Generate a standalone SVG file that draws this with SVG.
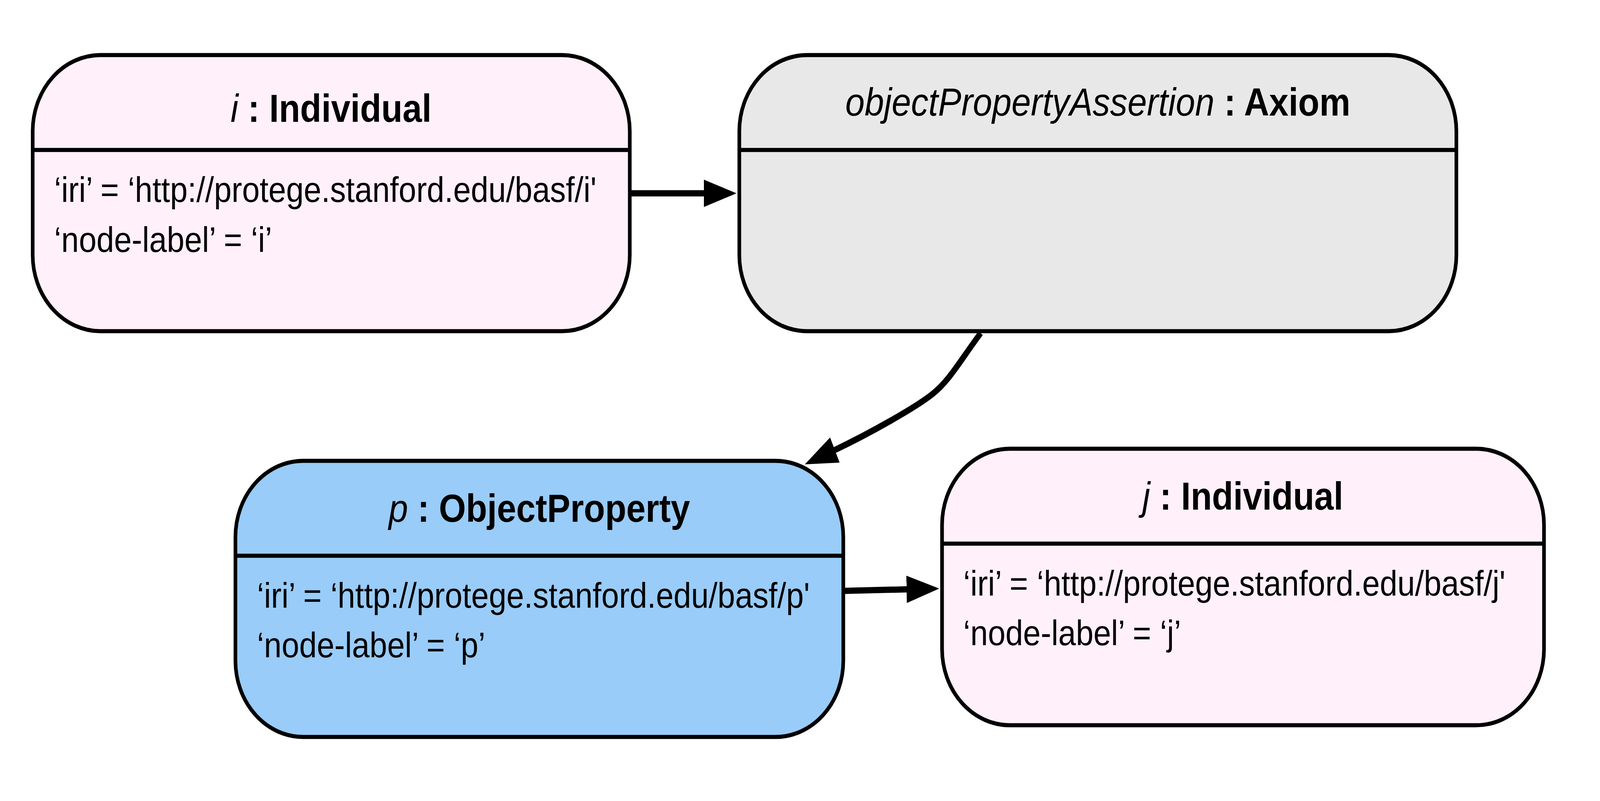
<svg xmlns="http://www.w3.org/2000/svg" width="4601" height="2051" viewBox="0 0 4601 2051" preserveAspectRatio="none" style="width:100%;height:100%">
  <style>
    .node { stroke: #000; stroke-width: 10.5; }
    .sep { stroke: #000; stroke-width: 10.5; }
    .ind { fill: #FFF0FA; }
    .ax { fill: #E8E8E8; }
    .op { fill: #99CCF9; }
    .title { font-family: "Liberation Sans", Arial, Helvetica, sans-serif; font-size: 100px; text-anchor: middle; fill: #000; }
    .attr { font-family: "Liberation Sans", Arial, Helvetica, sans-serif; font-size: 91px; fill: #000; }
    .it { font-style: italic; }
    .b { font-weight: bold; }
    .edge { fill: none; stroke: #000; stroke-width: 16; marker-end: url(#arrow); }
  </style>
  <defs>
    <marker id="arrow" markerUnits="userSpaceOnUse" viewBox="0 0 94 70" markerWidth="94" markerHeight="70" refX="2" refY="35" orient="auto">
      <path d="M0,0 L94,35 L0,70 Z" fill="#000"/>
    </marker>
  </defs>
  <rect width="4601" height="2051" fill="#fff"/>

  <g id="node-i">
    <rect class="node ind" x="94" y="141" width="1717" height="707" rx="195" ry="195"/>
    <line class="sep" x1="94" y1="384" x2="1811" y2="384"/>
    <text class="title" x="952" y="312"><tspan class="it">i</tspan><tspan class="b"> : Individual</tspan></text>
    <text class="attr" x="156" y="517">‘iri’ = ‘http://protege.stanford.edu/basf/i'</text>
    <text class="attr" x="156" y="645">‘node-label’ = ‘i’</text>
  </g>

  <g id="node-axiom">
    <rect class="node ax" x="2126" y="141" width="2062" height="707" rx="195" ry="195"/>
    <line class="sep" x1="2126" y1="384" x2="4188" y2="384"/>
    <text class="title" x="3157" y="296"><tspan class="it">objectPropertyAssertion</tspan><tspan class="b"> : Axiom</tspan></text>
  </g>

  <g id="node-p">
    <rect class="node op" x="677" y="1180" width="1748" height="707" rx="195" ry="195"/>
    <line class="sep" x1="677" y1="1423" x2="2425" y2="1423"/>
    <text class="title" x="1551" y="1336"><tspan class="it">p</tspan><tspan class="b"> : ObjectProperty</tspan></text>
    <text class="attr" x="739" y="1556">‘iri’ = ‘http://protege.stanford.edu/basf/p'</text>
    <text class="attr" x="739" y="1683">‘node-label’ = ‘p’</text>
  </g>

  <g id="node-j">
    <rect class="node ind" x="2709" y="1149" width="1731" height="708" rx="195" ry="195"/>
    <line class="sep" x1="2709" y1="1392" x2="4440" y2="1392"/>
    <text class="title" x="3574" y="1305"><tspan class="it">j</tspan><tspan class="b"> : Individual</tspan></text>
    <text class="attr" x="2770" y="1525">‘iri’ = ‘http://protege.stanford.edu/basf/j'</text>
    <text class="attr" x="2770" y="1652">‘node-label’ = ‘j’</text>
  </g>

  <g id="connectors">
    <path class="edge" d="M1811,495 L2026,495"/>
    <path class="edge" d="M2820,853 C2760,925 2730,975 2680,1010 C2630,1045 2500,1110 2399,1153"/>
    <path class="edge" d="M2425,1513 L2609,1509"/>
  </g>
</svg>
